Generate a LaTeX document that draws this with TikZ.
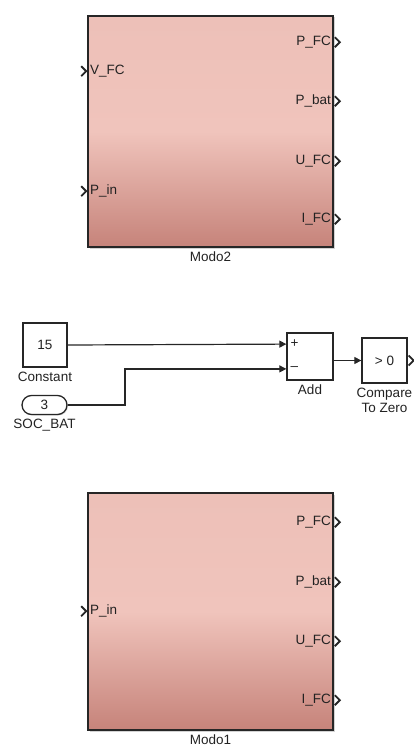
\documentclass[tikz,border=0pt]{standalone}
\usepackage{fontspec}
\setmainfont{Liberation Sans}
\usepackage{tikz}
\usetikzlibrary{arrows.meta,positioning,calc,shadows,shapes.misc}
\definecolor{blockline}{HTML}{262626}
\definecolor{textgray}{HTML}{222222}
\definecolor{modotop}{HTML}{EDC0B8}
\definecolor{modomid}{HTML}{F0C4BC}
\definecolor{modobot}{HTML}{C6837A}
\newcommand{\blkfont}{\fontsize{13.5}{15}\selectfont}
\tikzset{
  modoblock/.style={
    draw=blockline,line width=1.6pt,minimum width=245pt,
    shading=axis,top color=modotop,bottom color=modobot,middle color=modomid,
    drop shadow={shadow xshift=1.5pt,shadow yshift=-1.5pt,opacity=.35}
  },
  smallblock/.style={
    draw=blockline,line width=1.3pt,fill=white,inner sep=0pt,
    font=\blkfont,text=textgray,
    drop shadow={shadow xshift=1pt,shadow yshift=-1pt,opacity=.3}
  },
  blocklabel/.style={font=\blkfont,text=textgray,inner sep=1pt,align=center},
  portin/.style={font=\blkfont,text=textgray,inner sep=0pt,outer sep=3pt,anchor=west},
  portout/.style={font=\blkfont,text=textgray,inner sep=0pt,outer sep=3pt,anchor=east},
  signal/.style={draw=blockline,line width=1.2pt,-{Triangle[length=7pt,width=7pt]}},
  inchev/.pic={\draw[blockline,line width=1.8pt] (-6,-5) -- (-1,0) -- (-6,5);},
  outchev/.pic={\draw[blockline,line width=1.8pt] (1,-5) -- (6,0) -- (1,5);}
}

\begin{document}
\begin{tikzpicture}[x=1pt,y=-1pt,node distance=3pt]
\useasboundingbox (0,0) rectangle (414,749);

% upper subsystem
\node[modoblock,minimum height=231pt] (modo2) at (210.5,131.5) {};
\node[blocklabel,below=of modo2] (modo2lbl) {Modo2};
\node[portin] (m2vfc) at ($(modo2.north west)+(0,56)$) {V\_FC};
\node[portin] (m2pin) at ($(modo2.north west)+(0,176)$) {P\_in};
\pic at (modo2.west |- m2vfc) {inchev};
\pic at (modo2.west |- m2pin) {inchev};
\foreach \nm/\txt/\dy in {pfc/P\_FC/27,pbat/P\_bat/86,ufc/U\_FC/146,ifc/I\_FC/204}{
  \node[portout] (m2\nm) at ($(modo2.north east)+(0,\dy)$) {\txt};
  \pic at (modo2.east |- m2\nm) {outchev};
}

% comparison chain
\node[smallblock,minimum width=44pt,minimum height=44pt] (const) at (45,345) {15};
\node[blocklabel,below=of const] (constlbl) {Constant};
\node[smallblock,rounded rectangle,minimum width=45pt,minimum height=19pt]
  (soc) at (44.5,405) {3};
\node[blocklabel,below=of soc] (soclbl) {SOC\_BAT};
\node[smallblock,minimum width=46pt,minimum height=47pt] (add) at (310,356.5) {};
\node[blocklabel,below=of add] (addlbl) {Add};
\coordinate (addin1) at ($(add.north west)+(0,11.75)$);
\coordinate (addin2) at ($(add.south west)+(0,-11.75)$);
\node[blocklabel,anchor=west,xshift=3pt] at (addin1) {+};
\node[blocklabel,anchor=west,xshift=3pt] at (addin2) {\raisebox{1pt}{--}};
\node[smallblock,minimum width=45pt,minimum height=45pt] (cmp) at (384.5,360.5) {> 0};
\node[blocklabel,below=of cmp] (cmplbl) {Compare\\To Zero};
\pic at (cmp.east) {outchev};

\draw[signal] (const.east) -- (addin1);
\draw[signal] (soc.east) -- (125,405) |- (addin2);
\draw[signal] (add.east |- cmp.west) -- (cmp.west);

% lower subsystem
\node[modoblock,minimum height=237pt] (modo1) at (210.5,611.5) {};
\node[blocklabel,below=of modo1] (modo1lbl) {Modo1};
\node[portin] (m1pin) at ($(modo1.north west)+(0,119)$) {P\_in};
\pic at (modo1.west |- m1pin) {inchev};
\foreach \nm/\txt/\dy in {pfc/P\_FC/30,pbat/P\_bat/90,ufc/U\_FC/149,ifc/I\_FC/208}{
  \node[portout] (m1\nm) at ($(modo1.north east)+(0,\dy)$) {\txt};
  \pic at (modo1.east |- m1\nm) {outchev};
}
\end{tikzpicture}
\end{document}
